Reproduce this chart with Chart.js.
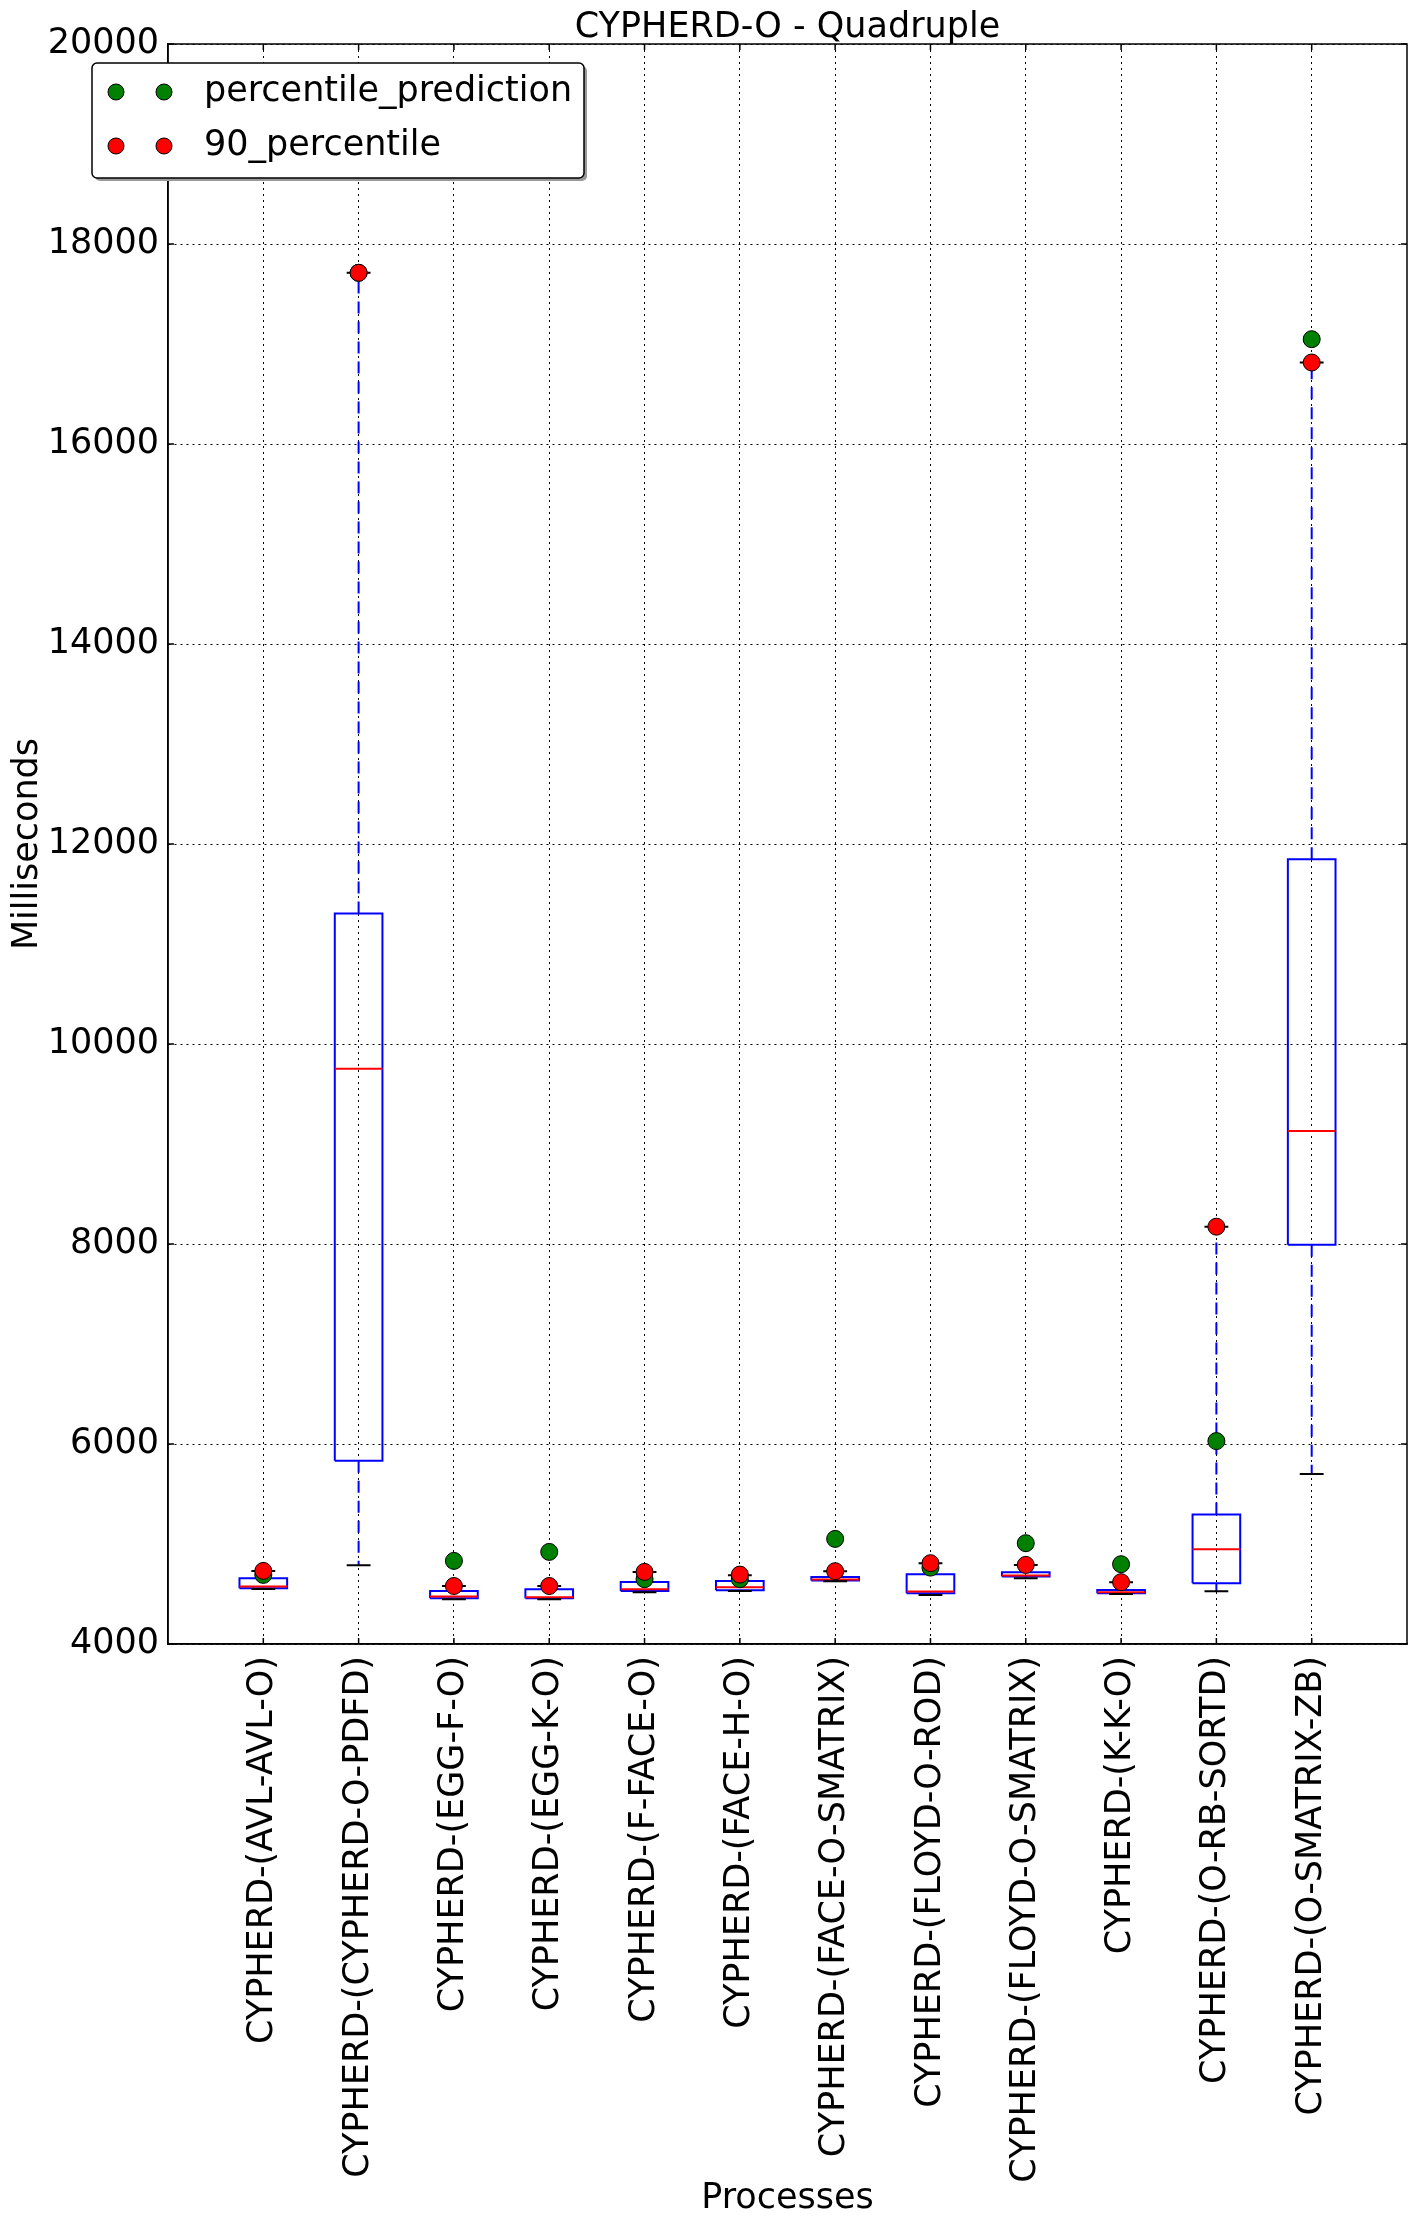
<!DOCTYPE html>
<html>
<head>
<meta charset="utf-8">
<title>CYPHERD-O - Quadruple</title>
<script src="https://cdn.jsdelivr.net/npm/chart.js@4/dist/chart.umd.min.js"></script>
<style>
  html, body { margin: 0; padding: 0; background: #fff; }
  #wrap { width: 1416px; height: 2227px; }
</style>
</head>
<body>
<div id="wrap"><canvas id="chart"></canvas></div>
<script>
// values (milliseconds)
const chartTitle = 'CYPHERD-O - Quadruple';
const categories = [
  'CYPHERD-(AVL-AVL-O)', 'CYPHERD-(CYPHERD-O-PDFD)', 'CYPHERD-(EGG-F-O)',
  'CYPHERD-(EGG-K-O)', 'CYPHERD-(F-FACE-O)', 'CYPHERD-(FACE-H-O)',
  'CYPHERD-(FACE-O-SMATRIX)', 'CYPHERD-(FLOYD-O-ROD)', 'CYPHERD-(FLOYD-O-SMATRIX)',
  'CYPHERD-(K-K-O)', 'CYPHERD-(O-RB-SORTD)', 'CYPHERD-(O-SMATRIX-ZB)'
];
const lowerWhisker = [4551, 4788, 4447, 4447, 4518, 4531, 4627, 4491, 4658, 4501, 4528, 5701];
const q1 = [4558, 5832, 4457, 4457, 4531, 4538, 4634, 4508, 4674, 4508, 4608, 7993];
const median = [4575, 9752, 4474, 4467, 4548, 4568, 4644, 4524, 4684, 4518, 4948, 9130];
const q3 = [4658, 11305, 4531, 4548, 4621, 4631, 4671, 4698, 4718, 4541, 5294, 11848];
const upperWhisker = [4731, 17712, 4580, 4580, 4721, 4688, 4728, 4808, 4791, 4618, 8173, 16815];
const percentile90 = [4731, 17712, 4580, 4580, 4721, 4694, 4728, 4808, 4791, 4618, 8173, 16815];
const percentilePrediction = [4691, 17712, 4831, 4921, 4648, 4648, 5051, 4764, 5008, 4798, 6029, 17048];
const yTicks = [4000, 6000, 8000, 10000, 12000, 14000, 16000, 18000, 20000];

const FONT_SIZE = 35;
Chart.defaults.font.family = 'DejaVu Sans';
Chart.defaults.color = '#000';

// box plot pieces as broken polylines (null y = gap)
const boxLines = [], medianLines = [], whiskerLines = [], capLines = [];
categories.forEach((_, i) => {
  const x = i + 1;
  const gap = { x, y: null };
  boxLines.push({ x: x - 0.25, y: q1[i] }, { x: x + 0.25, y: q1[i] }, { x: x + 0.25, y: q3[i] },
                { x: x - 0.25, y: q3[i] }, { x: x - 0.25, y: q1[i] }, gap);
  medianLines.push({ x: x - 0.25, y: median[i] }, { x: x + 0.25, y: median[i] }, gap);
  whiskerLines.push({ x, y: q3[i] }, { x, y: upperWhisker[i] }, gap,
                    { x, y: q1[i] }, { x, y: lowerWhisker[i] }, { x, y: null });
  capLines.push({ x: x - 0.125, y: upperWhisker[i] }, { x: x + 0.125, y: upperWhisker[i] }, gap,
                { x: x - 0.125, y: lowerWhisker[i] }, { x: x + 0.125, y: lowerWhisker[i] }, { x, y: null });
});

const lineSet = (data, color, extra) => Object.assign({
  type: 'scatter', data, showLine: true, spanGaps: false, pointRadius: 0,
  borderColor: color, borderWidth: 2, borderCapStyle: 'butt', borderJoinStyle: 'miter',
  tension: 0, legend: false
}, extra);

const pointSet = (label, values, color) => ({
  type: 'scatter', label,
  data: values.map((v, i) => ({ x: i + 1, y: v })),
  pointRadius: 8.5, pointBackgroundColor: color, backgroundColor: color,
  pointBorderColor: '#000', pointBorderWidth: 1, legend: true
});

// title over the plot, frame, inward ticks and the matplotlib-like legend box
const frameAndLegend = {
  id: 'frameAndLegend',
  afterDraw(chart) {
    const { ctx, chartArea: a, scales: { x, y } } = chart;
    ctx.save();
    ctx.fillStyle = '#000';
    ctx.font = FONT_SIZE + 'px "DejaVu Sans"';
    ctx.textAlign = 'center';
    ctx.textBaseline = 'alphabetic';
    ctx.fillText(chartTitle, (a.left + a.right) / 2, a.top - 7);

    ctx.strokeStyle = '#000';
    ctx.lineWidth = 1.5;
    ctx.strokeRect(a.left, a.top, a.right - a.left, a.bottom - a.top);
    ctx.beginPath();
    x.ticks.forEach(t => {
      const px = x.getPixelForValue(t.value);
      ctx.moveTo(px, a.bottom); ctx.lineTo(px, a.bottom - 6);
      ctx.moveTo(px, a.top); ctx.lineTo(px, a.top + 6);
    });
    y.ticks.forEach(t => {
      const py = y.getPixelForValue(t.value);
      ctx.moveTo(a.left, py); ctx.lineTo(a.left + 6, py);
      ctx.moveTo(a.right, py); ctx.lineTo(a.right - 6, py);
    });
    ctx.stroke();

    // legend
    const entries = chart.data.datasets.filter(d => d.legend).reverse();
    const bx = 92, by = 63, bw = 492, bh = 115;
    ctx.fillStyle = '#9a9a9a';
    ctx.beginPath(); ctx.roundRect(bx + 3, by + 3, bw, bh, 5); ctx.fill();
    ctx.fillStyle = '#fff';
    ctx.beginPath(); ctx.roundRect(bx, by, bw, bh, 5); ctx.fill();
    ctx.lineWidth = 1.5; ctx.stroke();
    ctx.textAlign = 'left';
    ctx.textBaseline = 'middle';
    entries.forEach((d, k) => {
      const ry = by + 29 + k * 54;
      [116, 164].forEach(mx => {
        ctx.beginPath(); ctx.arc(mx, ry, 8, 0, Math.PI * 2);
        ctx.fillStyle = d.pointBackgroundColor; ctx.fill();
        ctx.lineWidth = 1; ctx.strokeStyle = '#000'; ctx.stroke();
      });
      ctx.fillStyle = '#000';
      ctx.fillText(d.label, 204, ry);
    });
    ctx.restore();
  }
};

new Chart(document.getElementById('chart'), {
  type: 'scatter',
  data: {
    datasets: [
      pointSet('90_percentile', percentile90, '#ff0000'),
      pointSet('percentile_prediction', percentilePrediction, '#008000'),
      lineSet(capLines, '#000000'),
      lineSet(medianLines, '#ff0000'),
      lineSet(boxLines, '#0000ff'),
      lineSet(whiskerLines, '#0000ff', { borderDash: [12, 8] })
    ]
  },
  options: {
    responsive: true,
    maintainAspectRatio: false,
    animation: false,
    events: [],
    layout: { padding: { left: 0, right: 9, top: 44, bottom: 0 }, autoPadding: false },
    plugins: {
      legend: { display: false },
      tooltip: { enabled: false },
      title: { display: false }
    },
    scales: {
      x: {
        type: 'linear', min: 0, max: 13, z: 1,
        afterBuildTicks: s => { s.ticks = categories.map((_, i) => ({ value: i + 1 })); },
        afterFit: s => { s.height = 583; },
        ticks: {
          autoSkip: false, minRotation: 90, maxRotation: 90, padding: 12,
          font: { size: FONT_SIZE },
          callback: v => categories[v - 1] || ''
        },
        grid: { color: '#000', lineWidth: 1, drawTicks: false },
        border: { display: true, color: '#000', width: 1.5, dash: [2, 4] },
        title: { display: true, text: 'Processes', font: { size: FONT_SIZE }, padding: { top: 0, bottom: 7 } }
      },
      y: {
        type: 'linear', min: 4000, max: 20000, z: 1,
        afterBuildTicks: s => { s.ticks = yTicks.map(v => ({ value: v })); },
        afterFit: s => { s.width = 168; },
        ticks: { padding: 9, font: { size: FONT_SIZE }, callback: v => String(v) },
        grid: { color: '#000', lineWidth: 1, drawTicks: false },
        border: { display: true, color: '#000', width: 1.5, dash: [2, 4] },
        title: { display: true, text: 'Milliseconds', font: { size: FONT_SIZE }, padding: { top: 7, bottom: 0 } }
      }
    }
  },
  plugins: [frameAndLegend]
});
</script>
</body>
</html>
